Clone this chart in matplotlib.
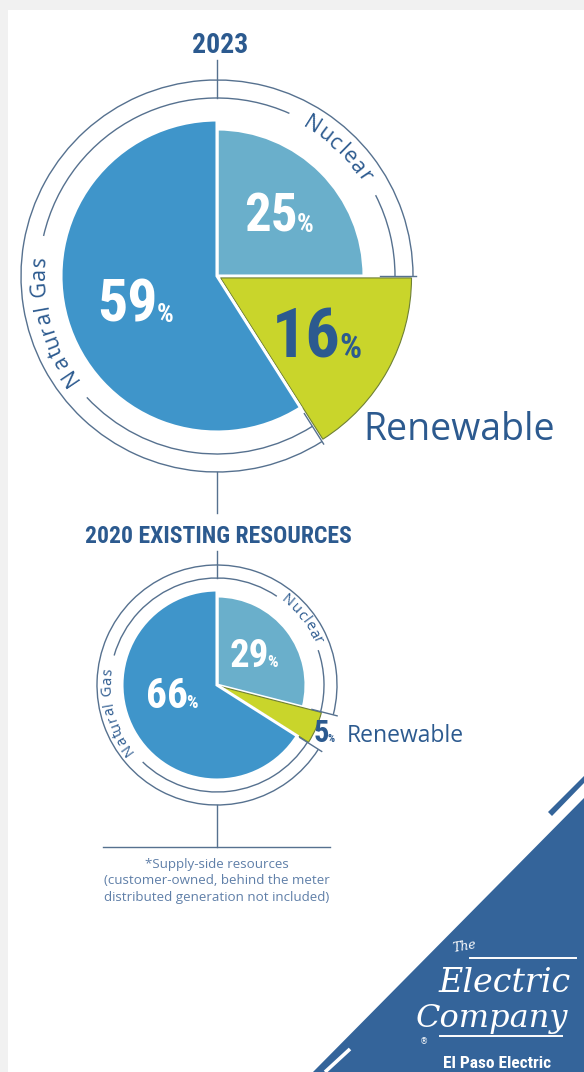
import numpy as np
import matplotlib
matplotlib.use('Agg')
import matplotlib.pyplot as plt
from matplotlib import font_manager
from matplotlib.font_manager import FontProperties
from matplotlib.patches import Arc, Polygon, Rectangle

W, H = 584, 1072

# --- data ---
sources = ['Nuclear', 'Renewable', 'Natural Gas']
share_2023 = [25, 16, 59]
share_2020 = [29, 5, 66]
title_2023 = '2023'
title_2020 = '2020 EXISTING RESOURCES'
footnote = ('*Supply-side resources\n'
            '(customer-owned, behind the meter\n'
            'distributed generation not included)')

# --- colours ---
GAS = '#3f95ca'
NUC = '#6aafcb'
REN = '#c9d52b'
NAVY = '#2c5a8f'
RING = '#56718f'
NOTE = '#5f7fa8'
LOGO = '#34649a'

names = {f.name for f in font_manager.fontManager.ttflist}


def pick(*cands):
    for c in cands:
        if c in names:
            return c
    return 'DejaVu Sans'


COND = pick('Roboto Condensed', 'Liberation Sans Narrow', 'Liberation Sans')
SANS = pick('Open Sans', 'Lato', 'DejaVu Sans')

fig = plt.figure(figsize=(W / 100, H / 100), dpi=100)
ax = fig.add_axes([0, 0, 1, 1])
renderer = fig.canvas.get_renderer()


def Y(y):
    # image row -> data y (data y grows upwards)
    return H - y


def text_w(s, prop):
    w, h, d = renderer.get_text_width_height_descent(s, prop, ismath=False)
    return w


def arc_text(s, cx, cy, r_mid, theta_c, size, color, track=0.0):
    prop = FontProperties(family=SANS, size=size)
    w, h, d = renderer.get_text_width_height_descent('N', prop, ismath=False)
    cap = h - d
    r_b = r_mid - cap / 2
    total = text_w(s, prop) + track * (len(s) - 1)
    for i, ch in enumerate(s):
        if ch == ' ':
            continue
        c = text_w(s[:i + 1], prop) - text_w(ch, prop) / 2 + track * i
        th = np.radians(theta_c) - (c - total / 2) / r_mid
        ax.text(cx + r_b * np.cos(th), cy + r_b * np.sin(th), ch,
                rotation=np.degrees(th) - 90, rotation_mode='anchor',
                ha='center', va='baseline', fontsize=size, color=color,
                family=SANS)


def draw_pie(shares, cx, cy_img, radii, shift, r_out, r_in, tick, gaps,
             labels, lab_r, lab_size, lab_track):
    cy = Y(cy_img)
    wedges, _ = ax.pie(shares, colors=[NUC, REN, GAS], startangle=90,
                       counterclock=False, center=(cx, cy), radius=1.0,
                       wedgeprops=dict(edgecolor='white', linewidth=2.2))
    for w, r in zip(wedges, radii):
        w.set_radius(r)
    ren = wedges[1]
    mid = np.radians((ren.theta1 + ren.theta2) / 2)
    ren.set_center((cx + shift * np.cos(mid), cy + shift * np.sin(mid)))
    ren.set_edgecolor('#6f8034')
    ren.set_linewidth(0.8)

    a0 = 90 - 3.6 * shares[0]          # nuclear / renewable border
    a1 = a0 - 3.6 * shares[1]          # renewable / gas border
    lk = dict(color=RING, lw=1.0)
    ax.add_patch(Arc((cx, cy), 2 * r_out, 2 * r_out, theta1=a0,
                     theta2=a1 + 360, **lk))
    for a in (a0, a1):
        t = np.radians(a)
        ax.plot([cx + tick[0] * np.cos(t), cx + tick[1] * np.cos(t)],
                [cy + tick[0] * np.sin(t), cy + tick[1] * np.sin(t)], **lk)
    # inner ring, broken where the labels sit
    (n0, n1), (g0, g1) = gaps
    for t1, t2 in [(a0, n0), (n1, g0), (g1, a1 + 360)]:
        ax.add_patch(Arc((cx, cy), 2 * r_in, 2 * r_in, theta1=t1,
                         theta2=t2, **lk))
    arc_text(labels[0], cx, cy, lab_r, (n0 + n1) / 2, lab_size, NAVY,
             lab_track)
    arc_text(labels[2], cx, cy, lab_r, (g0 + g1) / 2, lab_size, NAVY,
             lab_track)


def pct(value, x_right, base, size, psize, color):
    ax.text(x_right, Y(base), str(value), ha='right', va='baseline',
            fontsize=size, fontweight='bold', family=COND, color=color)
    ax.text(x_right - 1.5, Y(base), '%', ha='left', va='baseline',
            fontsize=psize, fontweight='bold', family=COND, color=color)


# background strips
ax.add_patch(Rectangle((0, Y(10)), W, 10, color='#f1f1f1', lw=0))
ax.add_patch(Rectangle((0, 0), 8, H, color='#f1f1f1', lw=0))

# logo corner
ax.add_patch(Polygon([(313, Y(H)), (W, Y(798)), (W, Y(H))],
                     closed=True, color=LOGO, lw=0))
ax.add_patch(Polygon([(548, Y(812)), (584, Y(776)), (584, Y(783)),
                      (552, Y(816))], closed=True, color=LOGO, lw=0))
ax.plot([325, 350], [Y(1072), Y(1049)], color='white', lw=2.6,
        solid_capstyle='butt')

# --- 2023 pie ---
cx = 217
draw_pie(share_2023, cx, 276, [147, 191, 156], 4, 196, 178, (163, 199),
         [(27, 66), (167, 223)], sources, 180, 15.5, 1.6)
pct(share_2023[2], 158, 322, 43, 19, 'white')
pct(share_2023[0], 298, 232, 38, 19, 'white')
pct(share_2023[1], 341, 358, 49, 25, NAVY)
ax.text(363, Y(440), sources[1], ha='left', va='baseline', fontsize=27,
        family=SANS, color=NAVY)

ax.text(cx + 3, Y(53), title_2023, ha='center', va='baseline', fontsize=20,
        fontweight='bold', family=COND, color=NAVY)
lk = dict(color=RING, lw=1.0)
ax.plot([cx, cx], [Y(60), Y(98)], **lk)
ax.plot([cx, cx], [Y(472), Y(513)], **lk)

# --- 2020 pie ---
ax.text(cx + 1, Y(543), title_2020, ha='center', va='baseline', fontsize=17,
        fontweight='bold', family=COND, color=NAVY)
ax.plot([cx, cx], [Y(551), Y(578)], **lk)
draw_pie(share_2020, cx, 685, [89, 104, 95], 4, 120, 107, (98, 124),
         [(19, 56), (164, 226)], sources, 111, 10.5, 1.0)
pct(share_2020[2], 188, 708, 30, 13, 'white')
pct(share_2020[0], 269, 667, 28, 12, 'white')
pct(share_2020[1], 329, 742, 22, 8, NAVY)
ax.text(347, Y(742), sources[1], ha='left', va='baseline', fontsize=16.5,
        family=SANS, color=NAVY)

ax.plot([cx, cx], [Y(805), Y(847)], **lk)
ax.plot([103, 330], [Y(847), Y(847)], **lk)
ax.text(cx, Y(858), footnote, ha='center', va='top', fontsize=9.6,
        linespacing=1.35, family=SANS, color=NOTE, multialignment='center')

# logo
ax.text(452, Y(952), 'The', fontsize=9, style='italic', family='DejaVu Serif',
        color='white', rotation=10)
ax.text(505, Y(992), 'Electric', ha='center', va='baseline', fontsize=24,
        style='italic', family='DejaVu Serif', color='white')
ax.text(492, Y(1027), 'Company', ha='center', va='baseline', fontsize=23,
        style='italic', family='DejaVu Serif', color='white')
ax.plot([470, 576], [Y(958), Y(958)], color='white', lw=1.4)
ax.plot([440, 562], [Y(1036), Y(1036)], color='white', lw=1.4)
ax.text(424, Y(1042), '\u00ae', fontsize=6, color='white', ha='center',
        va='center')
ax.text(497, Y(1068), 'El Paso Electric', ha='center', va='baseline',
        fontsize=12.5, fontweight='bold', family=COND, color='white')

ax.set_aspect('auto')
ax.set_xlim(0, W)
ax.set_ylim(0, H)
ax.axis('off')

fig.savefig('out.png', dpi=100, facecolor='white')
